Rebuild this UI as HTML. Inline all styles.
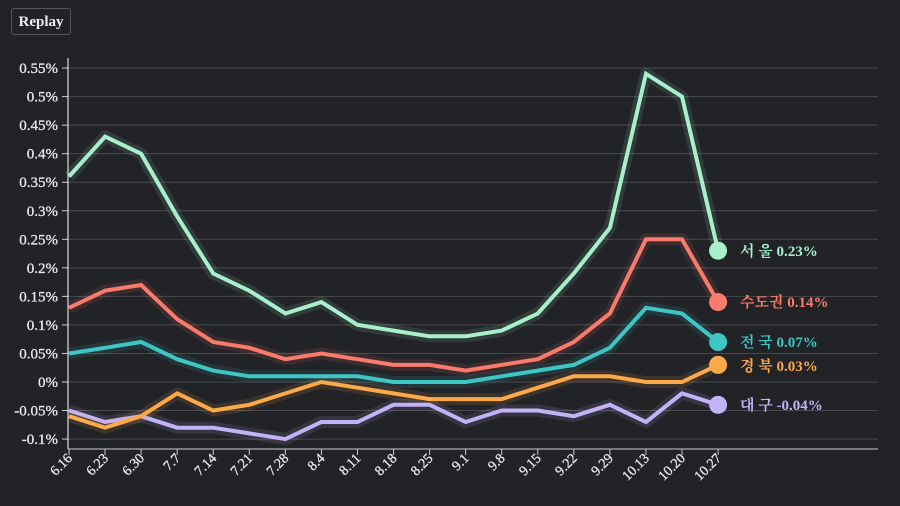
<!DOCTYPE html>
<html><head><meta charset="utf-8"><style>
html,body{margin:0;padding:0;background:#222327;}
body{width:900px;height:506px;overflow:hidden;position:relative;font-family:"Liberation Serif","Noto Serif CJK SC",serif;}
#btn{position:absolute;left:11px;top:8px;width:60px;height:27px;border:1px solid #55565b;border-radius:3px;color:#eee;font-weight:bold;font-size:15px;line-height:27px;text-align:center;box-sizing:border-box;}
svg{position:absolute;left:0;top:0;}
text{font-family:"Liberation Serif","Noto Serif CJK KR","Noto Sans CJK KR",serif;}
</style></head><body>
<div id="btn">Replay</div>
<svg id="s" width="900" height="506"></svg>
<script>
var s=document.getElementById('s'),h='';
function Y(v){return 382-v/0.05*28.54;}
function X(i){return 69+i*36.06;}
var yt=[0.55,0.5,0.45,0.4,0.35,0.3,0.25,0.2,0.15,0.1,0.05,0,-0.05,-0.1];
yt.forEach(function(v){var y=Y(v);h+='<line x1="68" x2="878" y1="'+y+'" y2="'+y+'" stroke="#48494e" stroke-width="1"/>';
h+='<line x1="62" x2="68" y1="'+y+'" y2="'+y+'" stroke="#ccc"/>';
h+='<text x="58" y="'+(y+5)+'" text-anchor="end" fill="#e8e8e8" font-size="15" stroke="#e8e8e8" stroke-width="0.3">'+(Math.round(v*100)/100)+'%</text>';});
h+='<line x1="68" x2="68" y1="58" y2="449" stroke="#fff"/><line x1="68" x2="878" y1="449" y2="449" stroke="#ccc"/>';
var L=['6.16','6.23','6.30','7.7','7.14','7.21','7.28','8.4','8.11','8.18','8.25','9.1','9.8','9.15','9.22','9.29','10.13','10.20','10.27'];
L.forEach(function(t,i){var x=X(i);h+='<line x1="'+x+'" x2="'+x+'" y1="449" y2="455" stroke="#ccc"/>';
h+='<text transform="translate('+(x+4)+',459) rotate(-45)" text-anchor="end" fill="#e8e8e8" font-size="14" stroke="#e8e8e8" stroke-width="0.3">'+t+'</text>';});
var S=[
['#a8f0cc','서 울 0.23%',[.36,.43,.40,.29,.19,.16,.12,.14,.10,.09,.08,.08,.09,.12,.19,.27,.54,.50,.23],251],
['#fa7a6c','수도권 0.14%',[.13,.16,.17,.11,.07,.06,.04,.05,.04,.03,.03,.02,.03,.04,.07,.12,.25,.25,.14],302],
['#3ec6c4','전 국 0.07%',[.05,.06,.07,.04,.02,.01,.01,.01,.01,0,0,0,.01,.02,.03,.06,.13,.12,.07],342],
['#fca94a','경 북 0.03%',[-.06,-.08,-.06,-.02,-.05,-.04,-.02,0,-.01,-.02,-.03,-.03,-.03,-.01,.01,.01,0,0,.03],366],
['#c2b3f7','대 구 -0.04%',[-.05,-.07,-.06,-.08,-.08,-.09,-.10,-.07,-.07,-.04,-.04,-.07,-.05,-.05,-.06,-.04,-.07,-.02,-.04],405]];
S.slice().reverse().forEach(function(r){var p=r[2].map(function(v,i){return X(i).toFixed(1)+','+Y(v).toFixed(1);}).join(' ');
h+='<polyline points="'+p+'" fill="none" stroke="'+r[0]+'" stroke-opacity="0.12" stroke-width="12" stroke-linejoin="round"/>';
h+='<polyline points="'+p+'" fill="none" stroke="'+r[0]+'" stroke-width="4" stroke-linejoin="miter"/>';
var ly=Y(r[2][18]);h+='<circle cx="'+X(18)+'" cy="'+ly+'" r="9" fill="'+r[0]+'"/>';
h+='<text x="740" y="'+(r[3]+5)+'" fill="'+r[0]+'" font-size="15" font-weight="bold">'+r[1]+'</text>';});
s.innerHTML=h;
</script>
</body></html>
